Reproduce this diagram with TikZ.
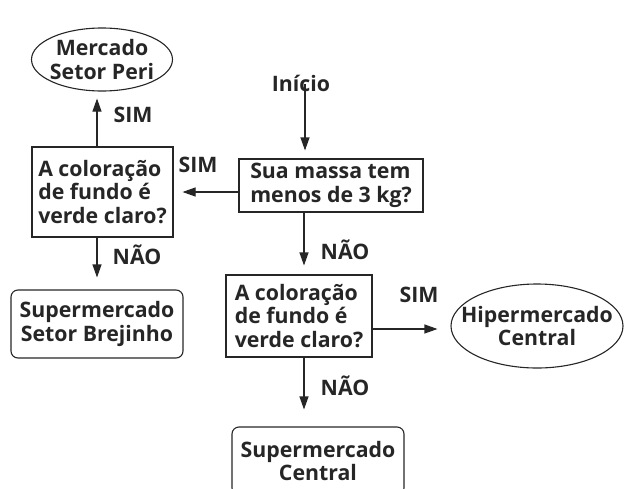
\documentclass[tikz,border=0pt]{standalone}
\usepackage{fontspec}
\setmainfont{Open Sans}
\usetikzlibrary{arrows.meta,shapes.geometric}

\tikzset{
	quest/.style={draw, line width=1.1pt, align=left, inner sep=2pt},
	shop/.style={draw, line width=1.1pt, rounded corners=7pt, align=center, inner sep=2pt},
	goal/.style={draw, ellipse, line width=1.1pt, align=center, inner ysep=0pt},
	arr/.style={line width=1.1pt, -{Triangle[length=13pt,width=9pt]}},
	lbl/.style={inner sep=0pt}
}

\begin{document}
\begin{tikzpicture}[x=1pt,y=-1pt,font=\fontsize{21.3}{23.5}\selectfont\bfseries,color={black!85}]
	\useasboundingbox (0,0) rectangle (624,488);
	% nodes
	\node[goal, inner xsep=-5pt, minimum width=141, minimum height=63] (peri) at (102,59.5) {Mercado\\Setor Peri};
	\node[lbl] (inicio) at (301,83) {Início};
	\node[quest, minimum width=184, minimum height=53] (massa) at (331,185.5) {Sua massa tem\\menos de 3 kg?};
	\node[quest, minimum width=141, minimum height=90] (corA) at (102.5,192) {A coloração\\de fundo é\\verde claro?};
	\node[shop, minimum width=172, minimum height=68] (brejinho) at (97,324) {Supermercado\\Setor Brejinho};
	\node[quest, minimum width=146, minimum height=82] (corB) at (299,316) {A coloração\\de fundo é\\verde claro?};
	\node[goal, inner xsep=-20pt, minimum width=172, minimum height=84] (hiper) at (537,326) {Hipermercado\\Central};
	\node[shop, minimum width=172, minimum height=68] (central) at (318,461) {Supermercado\\Central};
	% arrows
	\draw[arr, shorten >=8pt] ([xshift=4]inicio.south) ++(0,-7) -- ([xshift=4]inicio.south |- massa.north);
	\draw[arr, shorten >=9pt] (corA.east -| massa.west) -- (corA.east);
	\draw[arr, shorten >=7pt] ([xshift=-5.5]corA.north) -- ([xshift=-5.5]corA.north |- peri.south);
	\draw[arr, shorten >=12pt] (corA.south -| brejinho.north) -- (brejinho.north);
	\draw[arr, shorten >=9pt] ([xshift=-27]massa.south) -- ([xshift=-27]massa.south |- corB.north);
	\draw[arr, shorten >=13pt] ([yshift=-13]corB.east) -- ([yshift=-13]corB.east -| hiper.west);
	\draw[arr, shorten >=17pt] ([xshift=5]corB.south) -- ([xshift=5]corB.south |- central.north);
	% labels
	\node[lbl] (simA) at (133,115) {SIM};
	\node[lbl] (simB) at (198,165) {SIM};
	\node[lbl] (naoA) at (137,255) {NÃO};
	\node[lbl] (naoB) at (345,250) {NÃO};
	\node[lbl] (simC) at (419,295) {SIM};
	\node[lbl] (naoC) at (345,386) {NÃO};
\end{tikzpicture}
\end{document}
